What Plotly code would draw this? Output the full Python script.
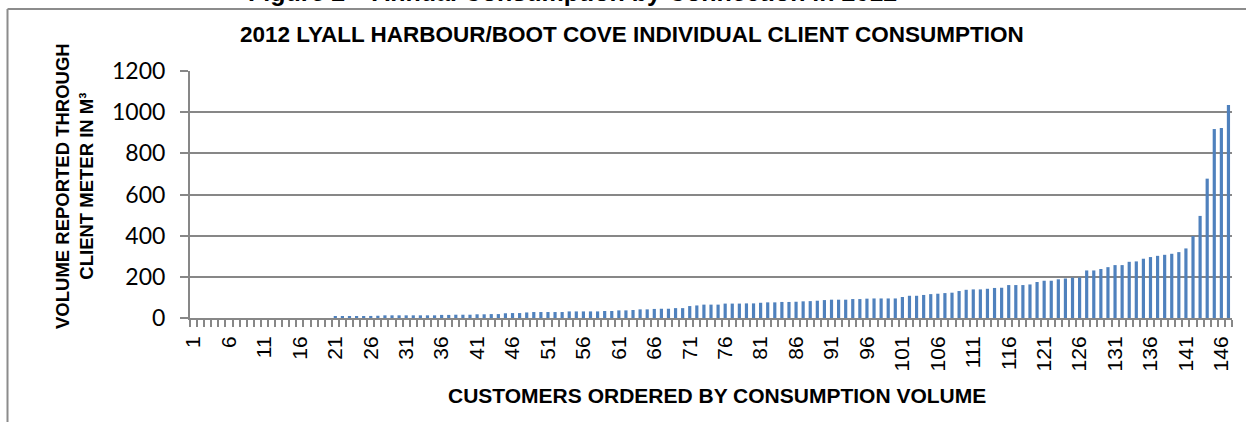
import plotly.graph_objects as go

# Data: customers ordered by consumption volume (m³)
customers = list(range(1, 148))
volumes = [
    0, 0, 0, 0, 0, 0, 0, 0, 0, 0,
    0, 0, 0, 0, 0, 0, 0, 0, 0, 0,
    5, 5, 5, 8, 8, 10, 11, 13, 13, 13,
    13, 13, 13, 13, 13, 15, 15, 16, 16, 16,
    18, 18, 19, 19, 23, 24, 24, 27, 29, 29,
    29, 29, 29, 32, 32, 32, 32, 32, 34, 34,
    37, 37, 39, 42, 42, 44, 45, 45, 48, 48,
    58, 61, 65, 65, 65, 70, 70, 70, 71, 71,
    74, 76, 76, 78, 78, 79, 81, 82, 84, 87,
    89, 89, 89, 92, 92, 94, 95, 95, 95, 95,
    102, 108, 108, 112, 116, 118, 121, 123, 131, 137,
    139, 139, 142, 146, 147, 160, 160, 160, 163, 175,
    181, 181, 188, 192, 196, 197, 231, 231, 238, 247,
    257, 257, 273, 275, 288, 296, 302, 307, 312, 320,
    338, 398, 496, 677, 918, 923, 1035,
]
x_tick_values = list(range(1, 148, 5))
x_tick_labels = [str(v) for v in x_tick_values]
y_tick_values = [0, 200, 400, 600, 800, 1000, 1200]

fig_title = "Figure 2 – Annual Consumption by Connection in 2012"
chart_title = "2012 LYALL HARBOUR/BOOT COVE INDIVIDUAL CLIENT CONSUMPTION"
x_title = "CUSTOMERS ORDERED BY CONSUMPTION VOLUME"
y_title = "VOLUME REPORTED THROUGH<br>CLIENT METER IN M³"

W, H = 1246, 422
L, R, T, B = 190, 14, 71, 104
PW = W - L - R
PH = H - T - B


def px(xp):
    return (xp - L) / PW


def py(yp):
    return (H - B - yp) / PH


GRID = "#878787"
BAR = "#4F81BD"

fig = go.Figure()
fig.add_trace(go.Bar(x=customers, y=volumes, marker=dict(color=BAR, line=dict(width=0)),
                     width=0.45))

fig.update_layout(
    width=W, height=H,
    margin=dict(l=L, r=R, t=T, b=B, pad=0),
    paper_bgcolor="white", plot_bgcolor="white",
    showlegend=False,
    font=dict(family="Liberation Sans, Arial", color="black"),
)

fig.update_xaxes(
    range=[0.5, 147.5],
    tickmode="array", tickvals=x_tick_values, ticktext=x_tick_labels,
    tickangle=-90,
    tickfont=dict(family="Liberation Sans, Arial", size=21, color="black"),
    ticks="outside", ticklen=0, tickcolor=GRID,
    ticklabelstandoff=8,
    showgrid=False, zeroline=False,
    showline=True, linecolor=GRID, linewidth=2,
    minor=dict(ticks="outside", ticklen=7, tickcolor=GRID, tickwidth=2,
               tick0=0.5, dtick=1, showgrid=False),
)

fig.update_yaxes(
    range=[0, 1200],
    tickmode="array", tickvals=y_tick_values,
    tickfont=dict(family="Lato, Carlito, sans-serif", size=23, color="black"),
    ticks="outside", ticklen=8, tickcolor=GRID, tickwidth=2,
    ticklabelstandoff=10,
    showgrid=True, gridcolor=GRID, gridwidth=2,
    zeroline=False,
    showline=True, linecolor=GRID, linewidth=2,
)

annotations = [
    dict(text="<b>%s</b>" % fig_title, x=px(572), y=py(-8), xref="paper", yref="paper",
         xanchor="center", yanchor="middle", showarrow=False,
         font=dict(family="Liberation Sans, Arial", size=25, color="black")),
    dict(text="<b>%s</b>" % chart_title, x=px(632), y=py(35), xref="paper", yref="paper",
         xanchor="center", yanchor="middle", showarrow=False,
         font=dict(family="Liberation Sans, Arial", size=22.5, color="black")),
    dict(text="<b>%s</b>" % x_title, x=px(717), y=py(395), xref="paper", yref="paper",
         xanchor="center", yanchor="middle", showarrow=False,
         font=dict(family="Liberation Sans, Arial", size=21, color="black")),
    dict(text="<b>%s</b>" % y_title, x=px(74), y=py(186), xref="paper", yref="paper",
         xanchor="center", yanchor="middle", showarrow=False, textangle=-90,
         font=dict(family="Liberation Sans, Arial", size=18.5, color="black")),
]
fig.update_layout(annotations=annotations)

BORDER = "#8c8c8c"
fig.add_shape(type="line", xref="paper", yref="paper",
              x0=px(7.5), x1=px(1250), y0=py(9), y1=py(9),
              line=dict(color=BORDER, width=2))
fig.add_shape(type="line", xref="paper", yref="paper",
              x0=px(7.5), x1=px(7.5), y0=py(9), y1=py(430),
              line=dict(color=BORDER, width=2))

fig.write_html("out.html", config={"displayModeBar": False},
               post_script="document.body.style.margin='0';")
